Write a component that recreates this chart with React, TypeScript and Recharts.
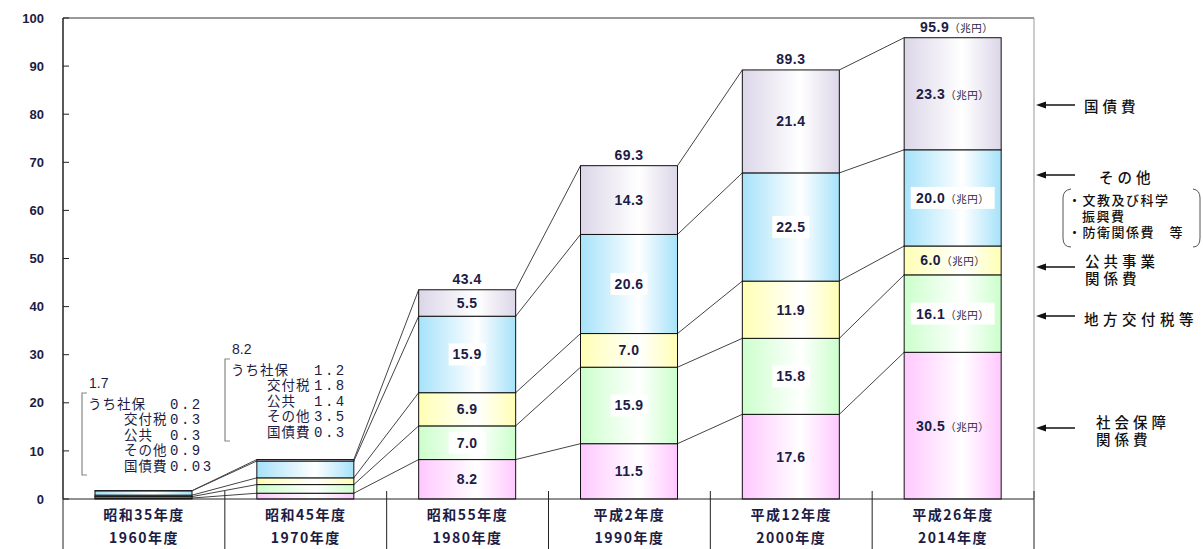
import React from 'react';
import { BarChart, Bar, XAxis, YAxis, LabelList, ReferenceLine } from 'recharts';

const categories = ['昭和35年度', '昭和45年度', '昭和55年度', '平成2年度', '平成12年度', '平成26年度'];
const years = ['1960年度', '1970年度', '1980年度', '1990年度', '2000年度', '2014年度'];

// 兆円
const shaho = [0.2, 1.2, 8.2, 11.5, 17.6, 30.5];
const kofu = [0.3, 1.8, 7.0, 15.9, 15.8, 16.1];
const kokyo = [0.3, 1.4, 6.9, 7.0, 11.9, 6.0];
const sonota = [0.9, 3.5, 15.9, 20.6, 22.5, 20.0];
const kokusai = [0.03, 0.3, 5.5, 14.3, 21.4, 23.3];
const totals = ['1.7', '8.2', '43.4', '69.3', '89.3', '95.9'];
const yTicks = [0, 10, 20, 30, 40, 50, 60, 70, 80, 90, 100];

const series = [
  { key: 'shaho', short: 'うち社保', values: shaho, color: '#ffc8ff', boxed: false },
  { key: 'kofu', short: '交付税', values: kofu, color: '#ccffcc', boxed: true },
  { key: 'kokyo', short: '公共', values: kokyo, color: '#ffffb4', boxed: false },
  { key: 'sonota', short: 'その他', values: sonota, color: '#a6e2fa', boxed: true },
  { key: 'kokusai', short: '国債費', values: kokusai, color: '#dcd6e8', boxed: false },
];

const data = categories.map((name, i) => {
  const row: Record<string, any> = { name };
  series.forEach((s) => (row[s.key] = s.values[i]));
  return row;
});

const W = 1203;
const H = 549;
const PLOT_L = 63;
const PLOT_R = 1034;
const BAND = (PLOT_R - PLOT_L) / categories.length;
const BAR = 97;

const NUM_FONT = '"Liberation Sans", Arial, sans-serif';
const JP_FONT = '"Noto Sans CJK JP", "Noto Sans", sans-serif';
const INK = '#1c1c44';

const cumTop = (k: number, i: number) => {
  let s = 0;
  for (let j = 0; j <= k; j++) s += series[j].values[i];
  return s;
};

// bar segment + connector line to the same stack level of the next bar
const makeShape = (k: number) => (props: any) => {
  const { x, y, width, height, index } = props;
  const v = series[k].values[index];
  const ppu = height / v;
  const zero = y + height + (cumTop(k, index) - v) * ppu;
  let link = null;
  if (index < categories.length - 1) {
    const nextY = zero - cumTop(k, index + 1) * ppu;
    link = <line x1={x + width} y1={y} x2={x + BAND} y2={nextY} stroke="#444" strokeWidth={1} />;
  }
  return (
    <g>
      <rect x={x} y={y} width={width} height={height} fill={`url(#grad-${k})`} stroke="#111" strokeWidth={1} />
      {link}
    </g>
  );
};

const makeLabel = (k: number) => (props: any) => {
  const { x, y, width, height, index } = props;
  if (index < 2) return null;
  const v = series[k].values[index];
  const cx = x + width / 2;
  const cy = y + height / 2;
  const unit = index === categories.length - 1;
  const bw = unit ? 84 : 37;
  return (
    <g>
      {series[k].boxed && <rect x={cx - bw / 2} y={cy - 11} width={bw} height={22} fill="#fff" />}
      <text x={cx} y={cy} dy="0.36em" textAnchor="middle" fontFamily={NUM_FONT} fontWeight="bold" fontSize={14} fill={INK} letterSpacing={0.5}>
        <tspan>{v.toFixed(1)}</tspan>
        {unit && <tspan fontFamily={JP_FONT} fontSize={10.5} fontWeight="normal">（兆円）</tspan>}
      </text>
    </g>
  );
};

const totalLabel = (props: any) => {
  const { x, y, width, index } = props;
  if (index < 2) return null;
  const unit = index === categories.length - 1;
  return (
    <text x={x + width / 2 + (unit ? 4 : 0)} y={y - 6} textAnchor="middle" fontFamily={NUM_FONT} fontWeight="bold" fontSize={14} fill={INK} letterSpacing={0.5}>
      <tspan>{totals[index]}</tspan>
      {unit && <tspan fontFamily={JP_FONT} fontSize={10.5} fontWeight="normal">（兆円）</tspan>}
    </text>
  );
};

const YTick = (props: any) => {
  const { x, y, payload } = props;
  return (
    <g>
      <line x1={x + 19} x2={x + 25} y1={y} y2={y} stroke="#222" />
      <text x={x} y={y} dy="0.36em" textAnchor="end" fontFamily={NUM_FONT} fontWeight="bold" fontSize={13} fill={INK}>
        {payload.value}
      </text>
    </g>
  );
};

const XTick = (props: any) => {
  const { x, y, index, payload } = props;
  const half = BAND / 2;
  return (
    <g>
      {index === 0 && <line x1={x - half} x2={x - half} y1={y} y2={y + 52} stroke="#222" />}
      <line x1={x + half} x2={x + half} y1={y - 8} y2={y + 52} stroke="#222" />
      <text x={x} y={y + 21} textAnchor="middle" fontFamily={JP_FONT} fontWeight="bold" fontSize={14} letterSpacing={1.5} fill={INK}>
        {payload.value}
      </text>
      <text x={x} y={y + 44} textAnchor="middle" fontFamily={JP_FONT} fontWeight="bold" fontSize={14} letterSpacing={1.5} fill={INK}>
        {years[index]}
      </text>
    </g>
  );
};

// breakdown notes for the two small early bars
const Breakdown = ({ i, x, y, numX }: { i: number; x: number; y: number; numX: number }) => {
  const step = 15.5;
  return (
    <g>
      <path d={`M${x + 5} ${y + 10} H${x} V${y + 92} H${x + 5}`} fill="none" stroke="#888" strokeWidth={1.2} />
      <text x={x + 7} y={y} dy="0.36em" fontFamily={NUM_FONT} fontSize={14} fill={INK}>
        {totals[i]}
      </text>
      {series.map((s, k) => (
        <text key={s.key} y={y + 20 + k * step} dy="0.36em" fill={INK}>
          <tspan x={k === 0 ? x + 6 : x + 42} fontFamily={JP_FONT} fontSize={13.5} letterSpacing={1}>
            {s.short}
          </tspan>
          <tspan x={numX} fontFamily='"Liberation Mono", monospace' fontSize={14} letterSpacing={2.5}>
            {String(s.values[i])}
          </tspan>
        </text>
      ))}
    </g>
  );
};

const Arrow = ({ y }: { y: number }) => (
  <g>
    <line x1={1042} x2={1075} y1={y} y2={y} stroke="#111" strokeWidth={1.3} />
    <polygon points={`1036,${y} 1046,${y - 3.5} 1046,${y + 3.5}`} fill="#111" />
  </g>
);

const LegendText = ({ x, y, children, size = 14.5, spacing = 4 }: any) => (
  <text x={x} y={y} dy="0.36em" fontFamily={JP_FONT} fontSize={size} fontWeight={500} letterSpacing={spacing} fill="#111">
    {children}
  </text>
);

export default function App() {
  return (
    <div style={{ position: 'absolute', left: 0, top: 0, width: W, height: H, background: '#fff' }}>
      <svg width={0} height={0} style={{ position: 'absolute' }}>
        <defs>
          {series.map((s, k) => (
            <linearGradient key={s.key} id={`grad-${k}`} x1="0" y1="0" x2="1" y2="0">
              <stop offset="0" stopColor={s.color} />
              <stop offset="0.6" stopColor="#ffffff" />
              <stop offset="1" stopColor={s.color} />
            </linearGradient>
          ))}
        </defs>
      </svg>
      <BarChart
        width={W}
        height={H}
        data={data}
        margin={{ top: 18, right: W - PLOT_R - 1, bottom: 0, left: PLOT_L - 50 }}
        barSize={BAR}
      >
        <XAxis
          dataKey="name"
          height={50}
          interval={0}
          axisLine={{ stroke: '#222' }}
          tickLine={false}
          tickSize={0}
          tickMargin={0}
          tick={(p: any) => <XTick {...p} />}
        />
        <YAxis
          domain={[0, 100]}
          ticks={yTicks}
          interval={0}
          width={50}
          axisLine={{ stroke: '#222', strokeWidth: 1.5 }}
          tickLine={false}
          tickSize={0}
          tickMargin={19}
          tick={(p: any) => <YTick {...p} />}
        />
        <YAxis
          yAxisId="right"
          orientation="right"
          width={1}
          domain={[0, 100]}
          tick={false}
          tickLine={false}
          axisLine={{ stroke: '#999' }}
        />
        <ReferenceLine y={100} stroke="#333" />
        {series.map((s, k) => (
          <Bar key={s.key} dataKey={s.key} stackId="a" isAnimationActive={false} shape={makeShape(k)}>
            <LabelList content={makeLabel(k)} />
            {k === series.length - 1 && <LabelList content={totalLabel} />}
          </Bar>
        ))}
      </BarChart>
      <svg width={W} height={H} style={{ position: 'absolute', left: 0, top: 0, pointerEvents: 'none' }}>
        <Breakdown i={0} x={82} y={383} numX={170} />
        <Breakdown i={1} x={225} y={349} numX={314} />

        <Arrow y={105} />
        <LegendText x={1084} y={107}>国債費</LegendText>

        <Arrow y={175} />
        <LegendText x={1099} y={178}>その他</LegendText>
        <path d="M1071 189 Q1063 190 1063 198 V238 Q1063 247 1071 247" fill="none" stroke="#555" strokeWidth={1} />
        <path d="M1193 189 Q1200 190 1200 198 V238 Q1200 247 1193 247" fill="none" stroke="#555" strokeWidth={1} />
        <LegendText x={1068} y={200} size={13} spacing={1.5}>・文教及び科学</LegendText>
        <LegendText x={1082} y={216} size={13} spacing={1.5}>振興費</LegendText>
        <LegendText x={1068} y={232} size={13} spacing={1.5}>・防衛関係費　等</LegendText>

        <Arrow y={267} />
        <LegendText x={1085} y={262}>公共事業</LegendText>
        <LegendText x={1085} y={279}>関係費</LegendText>

        <Arrow y={316} />
        <LegendText x={1084} y={320} spacing={4.5}>地方交付税等</LegendText>

        <Arrow y={428} />
        <LegendText x={1096} y={423}>社会保障</LegendText>
        <LegendText x={1096} y={440}>関係費</LegendText>
      </svg>
    </div>
  );
}
